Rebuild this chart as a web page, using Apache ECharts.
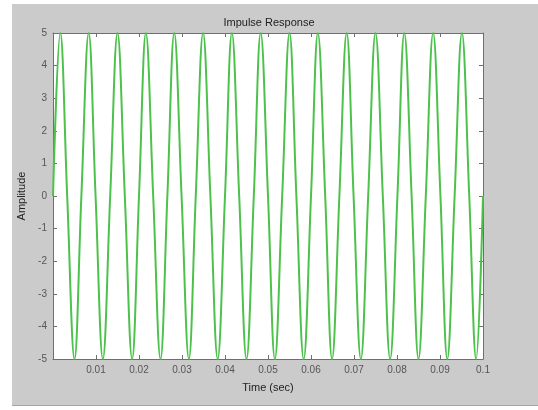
<!DOCTYPE html>
<html>
<head>
<meta charset="utf-8">
<script src="https://cdn.jsdelivr.net/npm/echarts@6/dist/echarts.min.js"></script>
<style>
  body { margin: 0; background: #fff; }
  #frame { position: absolute; left: 12px; top: 4px; width: 526px; height: 401px; background: #cbcbcb; border-bottom: 1px solid #a9a3ab; }
  #chart { position: absolute; left: 0; top: 0; width: 538px; height: 410px; }
</style>
</head>
<body>
<div id="frame"></div>
<div id="chart"></div>
<script>
// times (sec)
var peakTimes = [0.0017, 0.0083, 0.0150, 0.0216, 0.0282, 0.0349, 0.0416, 0.0483, 0.0550, 0.0616, 0.0683, 0.0750, 0.0817, 0.0884, 0.0951];
var troughTimes = [0.0050, 0.0116, 0.0184, 0.0250, 0.0316, 0.0383, 0.0450, 0.0516, 0.0583, 0.0649, 0.0716, 0.0784, 0.0850, 0.0917, 0.0984];
var zeroTimes = [0, 0.0033, 0.0066, 0.0099, 0.0133, 0.0167, 0.0200, 0.0233, 0.0266, 0.0299, 0.0332, 0.0366, 0.0400, 0.0433, 0.0467, 0.0500,
    0.0533, 0.0566, 0.0600, 0.0633, 0.0666, 0.0699, 0.0733, 0.0767, 0.0801, 0.0834, 0.0867, 0.0901, 0.0934, 0.0968, 0.1000];
var peakAmp = 5;
var troughAmp = -5;
var zeroAmp = 0;

var points = [];
peakTimes.forEach(function (t) { points.push([t, peakAmp]); });
troughTimes.forEach(function (t) { points.push([t, troughAmp]); });
zeroTimes.forEach(function (t) { points.push([t, zeroAmp]); });
points.sort(function (a, b) { return a[0] - b[0]; });

var axisGray = '#6f6f6f';
var labelGray = '#555';

var myChart = echarts.init(document.getElementById('chart'));
var option = {
    animation: false,
    title: {
        text: 'Impulse Response',
        left: 'center',
        top: 12,
        textStyle: { fontSize: 11, fontWeight: 'normal', color: '#222', fontFamily: 'Liberation Sans' }
    },
    grid: {
        left: 53, right: 55, top: 33, bottom: 51,
        show: true, backgroundColor: '#fff', borderWidth: 0
    },
    xAxis: [{
        type: 'value', min: 0, max: 0.1, interval: 0.01, position: 'bottom',
        name: 'Time (sec)', nameLocation: 'middle', nameGap: 23,
        nameTextStyle: { fontSize: 11, color: '#222', fontFamily: 'Liberation Sans' },
        axisLine: { onZero: false, lineStyle: { color: axisGray } },
        axisTick: { inside: true, length: 4, lineStyle: { color: axisGray } },
        axisLabel: {
            fontSize: 10, color: labelGray, fontFamily: 'Liberation Sans', margin: 6,
            formatter: function (v) { return v === 0 ? '' : String(+v.toFixed(2)); }
        },
        splitLine: { show: false }
    }, {
        type: 'value', min: 0, max: 0.1, interval: 0.01, position: 'top',
        axisLine: { onZero: false, lineStyle: { color: axisGray } },
        axisTick: { inside: true, length: 4, lineStyle: { color: axisGray } },
        axisLabel: { show: false },
        splitLine: { show: false }
    }],
    yAxis: [{
        type: 'value', min: -5, max: 5, interval: 1, position: 'left',
        name: 'Amplitude', nameLocation: 'middle', nameGap: 16, nameRotate: 90,
        nameTextStyle: { fontSize: 11, color: '#222', fontFamily: 'Liberation Sans' },
        axisLine: { show: true, onZero: false, lineStyle: { color: axisGray } },
        axisTick: { show: true, inside: true, length: 4, lineStyle: { color: axisGray } },
        axisLabel: { fontSize: 10, color: labelGray, fontFamily: 'Liberation Sans', margin: 6 },
        splitLine: { show: false }
    }, {
        type: 'value', min: -5, max: 5, interval: 1, position: 'right',
        axisLine: { show: true, onZero: false, lineStyle: { color: axisGray } },
        axisTick: { show: true, inside: true, length: 4, lineStyle: { color: axisGray } },
        axisLabel: { show: false },
        splitLine: { show: false }
    }],
    series: [{
        name: 'Impulse',
        type: 'line',
        xAxisIndex: 0,
        yAxisIndex: 0,
        data: points,
        smooth: 0.4,
        showSymbol: false,
        lineStyle: { color: '#4cc24c', width: 2 }
    }]
};
myChart.setOption(option);
</script>
</body>
</html>
